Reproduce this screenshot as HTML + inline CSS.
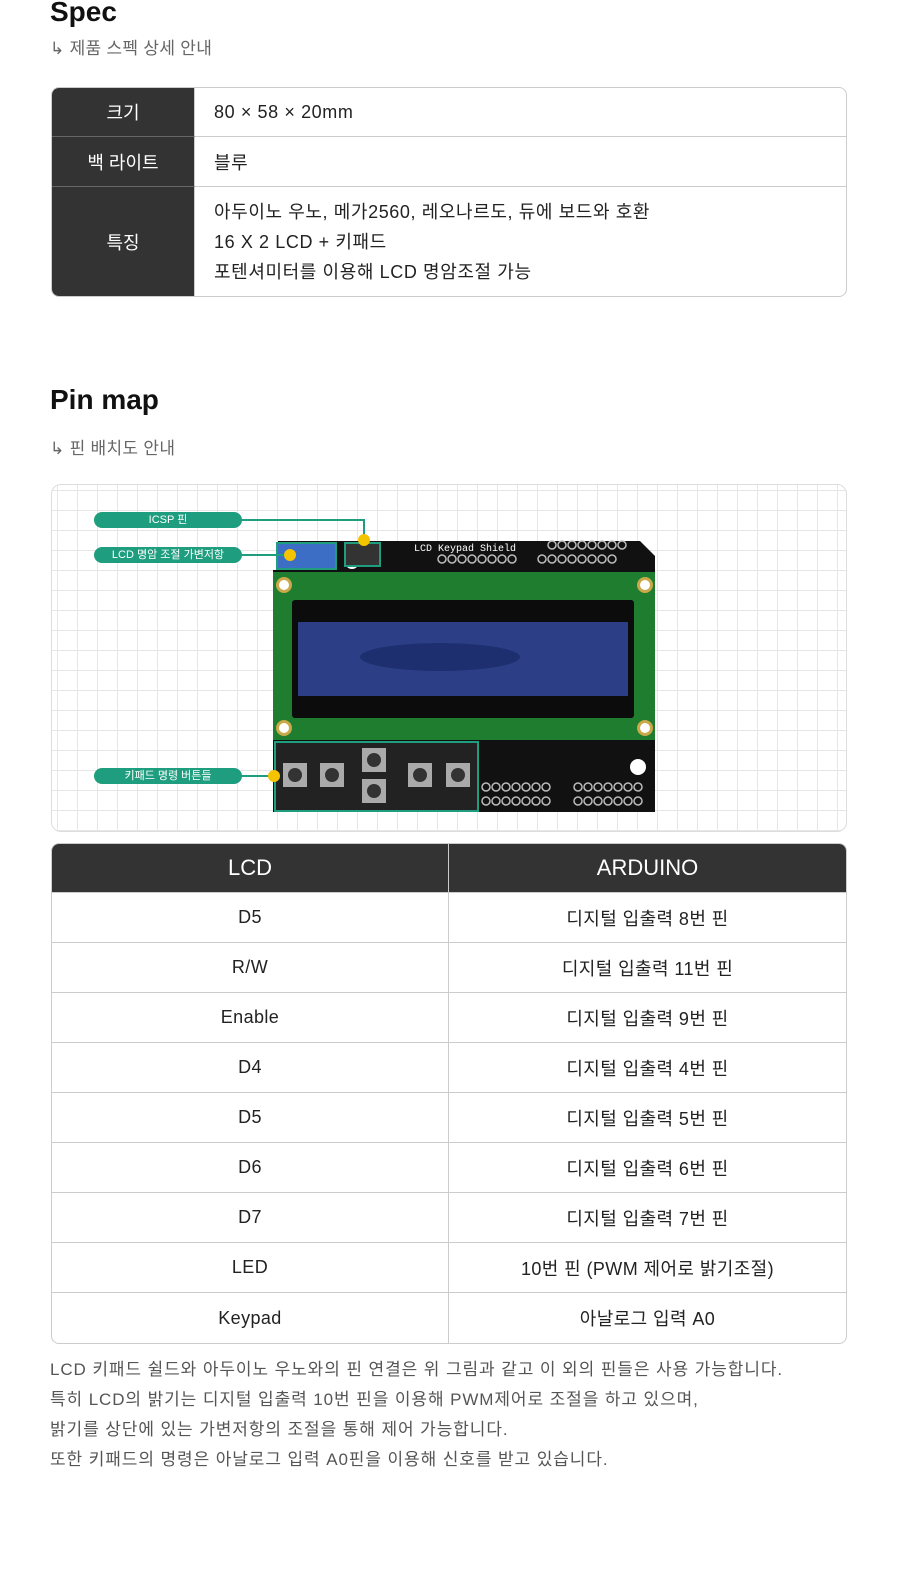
<!DOCTYPE html>
<html><head><meta charset="utf-8"><style>
*{margin:0;padding:0;box-sizing:border-box}
body{width:900px;height:1575px;background:#fff;font-family:"Liberation Sans","Noto Sans CJK KR",sans-serif;color:#222;position:relative;overflow:hidden}
.abs{position:absolute}
h2{position:absolute;left:50px;font-size:28px;font-weight:bold;color:#111}
.sub{position:absolute;left:50px;font-size:17px;color:#666;letter-spacing:0.3px}
table{border-collapse:separate;border-spacing:0;position:absolute;left:51px;width:796px;font-size:18px}
td,th{border-right:1px solid #ccc;border-bottom:1px solid #ccc}
.spec{top:87px;border:1px solid #ccc;border-radius:8px;overflow:hidden}
.spec td.h{background:#333;color:#fff;text-align:center;width:143px;border-bottom:1px solid #666}
.spec td.v{padding-left:19px;border-right:none;letter-spacing:0.6px}
.spec tr:last-child td{border-bottom:none}
.pin{top:843px;border:1px solid #ccc;border-radius:8px;overflow:hidden}
.pin th{background:#333;color:#fff;font-weight:normal;font-size:22px;height:49px}
.pin td{text-align:center;height:50px;letter-spacing:0.4px}
.pin tr td:last-child,.pin tr th:last-child{border-right:none}
.pin tr:last-child td{border-bottom:none}
.box{left:51px;top:484px;width:796px;height:348px;border:1px solid #ddd;border-radius:10px;background-color:#fff;
background-image:linear-gradient(#e6e6e6 1px,transparent 1px),linear-gradient(90deg,#e6e6e6 1px,transparent 1px);background-size:20px 20px;background-position:5px 5px;overflow:hidden}
.lbl{position:absolute;left:94px;width:148px;height:16px;border-radius:8px;background:#1f9e7f;color:#fff;font-size:11px;text-align:center;line-height:16px}
.dot{position:absolute;width:12px;height:12px;border-radius:50%;background:#f5c400}
p.t{position:absolute;left:50px;top:1355px;font-size:17px;line-height:30px;color:#555;letter-spacing:0.9px;white-space:nowrap}
</style></head><body>
<h2 style="top:-4px">Spec</h2>
<div class="sub" style="top:34px">↳ 제품 스펙 상세 안내</div>
<table class="spec">
<tr style="height:49px"><td class="h">크기</td><td class="v">80 × 58 × 20mm</td></tr>
<tr style="height:50px"><td class="h">백 라이트</td><td class="v">블루</td></tr>
<tr style="height:109px"><td class="h">특징</td><td class="v" style="line-height:30px">아두이노 우노, 메가2560, 레오나르도, 듀에 보드와 호환<br>16 X 2 LCD + 키패드<br>포텐셔미터를 이용해 LCD 명암조절 가능</td></tr>
</table>
<h2 style="top:384px">Pin map</h2>
<div class="sub" style="top:434px">↳ 핀 배치도 안내</div>
<div class="abs box"></div>
<svg class="abs" style="left:0;top:0" width="900" height="840">
<polygon points="278,541 640,541 655,556 655,812 273,812 273,570 278,570" fill="#111"/>
<rect x="273" y="572" width="382" height="168" fill="#1e7d2e"/>
<rect x="292" y="600" width="342" height="118" fill="#0c0c0c" rx="3"/>
<rect x="298" y="622" width="330" height="74" fill="#2c3f86"/>
<ellipse cx="440" cy="657" rx="80" ry="14" fill="#1e2f70"/>
<circle cx="284" cy="585" r="8" fill="#c9a94a"/><circle cx="284" cy="585" r="5" fill="#fff"/>
<circle cx="645" cy="585" r="8" fill="#c9a94a"/><circle cx="645" cy="585" r="5" fill="#fff"/>
<circle cx="284" cy="728" r="8" fill="#c9a94a"/><circle cx="284" cy="728" r="5" fill="#fff"/>
<circle cx="645" cy="728" r="8" fill="#c9a94a"/><circle cx="645" cy="728" r="5" fill="#fff"/>
<circle cx="638" cy="767" r="8" fill="#fff"/><circle cx="352" cy="562" r="7" fill="#fff"/>
<rect x="277" y="543" width="59" height="26" fill="#3b6ec4" stroke="#1f9e7f" stroke-width="2"/>
<rect x="345" y="543" width="35" height="23" fill="#333" stroke="#1f9e7f" stroke-width="2"/>
<rect x="275" y="742" width="203" height="69" fill="#222" stroke="#1f9e7f" stroke-width="2"/>
<g fill="#aaa"><rect x="283" y="763" width="24" height="24"/><rect x="320" y="763" width="24" height="24"/><rect x="362" y="748" width="24" height="24"/><rect x="362" y="779" width="24" height="24"/><rect x="408" y="763" width="24" height="24"/><rect x="446" y="763" width="24" height="24"/></g>
<g fill="#333"><circle cx="295" cy="775" r="7"/><circle cx="332" cy="775" r="7"/><circle cx="374" cy="760" r="7"/><circle cx="374" cy="791" r="7"/><circle cx="420" cy="775" r="7"/><circle cx="458" cy="775" r="7"/></g>
<g fill="none" stroke="#bbb" stroke-width="1.5">
<g id="r1"><circle cx="442" cy="559" r="4"/><circle cx="452" cy="559" r="4"/><circle cx="462" cy="559" r="4"/><circle cx="472" cy="559" r="4"/><circle cx="482" cy="559" r="4"/><circle cx="492" cy="559" r="4"/><circle cx="502" cy="559" r="4"/><circle cx="512" cy="559" r="4"/></g>
<use href="#r1" x="100"/><use href="#r1" x="110" y="-14"/>
<g id="r2"><circle cx="486" cy="787" r="4"/><circle cx="496" cy="787" r="4"/><circle cx="506" cy="787" r="4"/><circle cx="516" cy="787" r="4"/><circle cx="526" cy="787" r="4"/><circle cx="536" cy="787" r="4"/><circle cx="546" cy="787" r="4"/></g>
<use href="#r2" y="14"/><use href="#r2" x="92" y="0"/><use href="#r2" x="92" y="14"/>
</g>
<text x="414" y="551" fill="#fff" font-size="10" font-family="Liberation Mono">LCD Keypad Shield</text>
<polyline points="242,520 364,520 364,540" fill="none" stroke="#1f9e7f" stroke-width="2"/>
<line x1="242" y1="555" x2="290" y2="555" stroke="#1f9e7f" stroke-width="2"/>
<line x1="242" y1="776" x2="276" y2="776" stroke="#1f9e7f" stroke-width="2"/>
</svg>
<div class="lbl" style="top:512px">ICSP 핀</div>
<div class="lbl" style="top:547px">LCD 명암 조절 가변저항</div>
<div class="lbl" style="top:768px">키패드 명령 버튼들</div>
<div class="dot" style="left:358px;top:534px"></div>
<div class="dot" style="left:284px;top:549px"></div>
<div class="dot" style="left:268px;top:770px"></div>
<table class="pin">
<tr><th style="width:397px">LCD</th><th>ARDUINO</th></tr>
<tr><td>D5</td><td>디지털 입출력 8번 핀</td></tr>
<tr><td>R/W</td><td>디지털 입출력 11번 핀</td></tr>
<tr><td>Enable</td><td>디지털 입출력 9번 핀</td></tr>
<tr><td>D4</td><td>디지털 입출력 4번 핀</td></tr>
<tr><td>D5</td><td>디지털 입출력 5번 핀</td></tr>
<tr><td>D6</td><td>디지털 입출력 6번 핀</td></tr>
<tr><td>D7</td><td>디지털 입출력 7번 핀</td></tr>
<tr><td>LED</td><td>10번 핀 (PWM 제어로 밝기조절)</td></tr>
<tr><td>Keypad</td><td>아날로그 입력 A0</td></tr>
</table>
<p class="t">LCD 키패드 쉴드와 아두이노 우노와의 핀 연결은 위 그림과 같고 이 외의 핀들은 사용 가능합니다.<br>특히 LCD의 밝기는 디지털 입출력 10번 핀을 이용해 PWM제어로 조절을 하고 있으며,<br>밝기를 상단에 있는 가변저항의 조절을 통해 제어 가능합니다.<br>또한 키패드의 명령은 아날로그 입력 A0핀을 이용해 신호를 받고 있습니다.</p>
</body></html>
